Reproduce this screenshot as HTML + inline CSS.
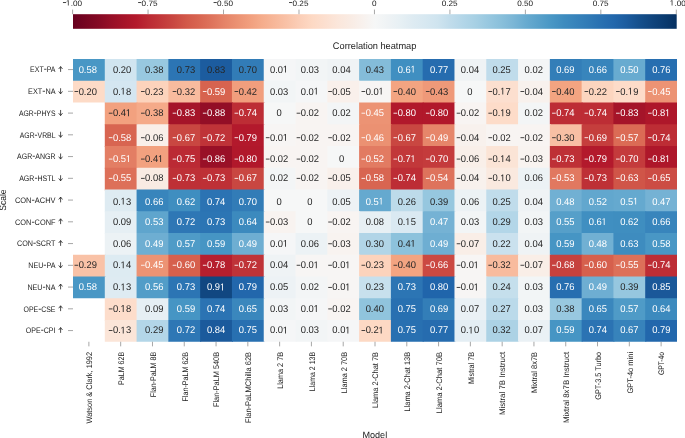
<!DOCTYPE html>
<html><head><meta charset="utf-8"><style>
html,body{margin:0;padding:0;background:#fff;}
body{width:685px;height:438px;position:relative;overflow:hidden;font-family:"Liberation Sans", sans-serif;}
svg text{font-family:"Liberation Sans", sans-serif;text-rendering:geometricPrecision;}
</style></head><body>
<svg width="685" height="438" viewBox="0 0 685 438" style="position:absolute;left:0;top:0;will-change:transform">
<defs><linearGradient id="cb" x1="0" y1="0" x2="1" y2="0"><stop offset="0.0000" stop-color="#67001f"/><stop offset="0.0208" stop-color="#760521"/><stop offset="0.0417" stop-color="#840924"/><stop offset="0.0625" stop-color="#960f27"/><stop offset="0.0833" stop-color="#a51429"/><stop offset="0.1042" stop-color="#b3192c"/><stop offset="0.1250" stop-color="#bb2a34"/><stop offset="0.1458" stop-color="#c2383a"/><stop offset="0.1667" stop-color="#c94741"/><stop offset="0.1875" stop-color="#d25849"/><stop offset="0.2083" stop-color="#d86551"/><stop offset="0.2292" stop-color="#de735c"/><stop offset="0.2500" stop-color="#e58368"/><stop offset="0.2708" stop-color="#eb9172"/><stop offset="0.2917" stop-color="#f19e7d"/><stop offset="0.3125" stop-color="#f5ac8b"/><stop offset="0.3333" stop-color="#f7b799"/><stop offset="0.3542" stop-color="#f9c2a7"/><stop offset="0.3750" stop-color="#fbceb7"/><stop offset="0.3958" stop-color="#fdd9c4"/><stop offset="0.4167" stop-color="#fcdfcf"/><stop offset="0.4375" stop-color="#fbe6da"/><stop offset="0.4583" stop-color="#f9ebe3"/><stop offset="0.4792" stop-color="#f8f1ed"/><stop offset="0.5000" stop-color="#f6f7f7"/><stop offset="0.5208" stop-color="#eff3f5"/><stop offset="0.5417" stop-color="#e7f0f4"/><stop offset="0.5625" stop-color="#deebf2"/><stop offset="0.5833" stop-color="#d7e8f1"/><stop offset="0.6042" stop-color="#cfe4ef"/><stop offset="0.6250" stop-color="#c0dceb"/><stop offset="0.6458" stop-color="#b3d6e8"/><stop offset="0.6667" stop-color="#a7d0e4"/><stop offset="0.6875" stop-color="#98c8e0"/><stop offset="0.7083" stop-color="#8ac0db"/><stop offset="0.7292" stop-color="#7bb6d6"/><stop offset="0.7500" stop-color="#68abd0"/><stop offset="0.7708" stop-color="#59a1ca"/><stop offset="0.7917" stop-color="#4997c5"/><stop offset="0.8125" stop-color="#3e8cbf"/><stop offset="0.8333" stop-color="#3783bb"/><stop offset="0.8542" stop-color="#307ab6"/><stop offset="0.8750" stop-color="#2870b1"/><stop offset="0.8958" stop-color="#2267ac"/><stop offset="0.9167" stop-color="#1c5c9f"/><stop offset="0.9375" stop-color="#15508d"/><stop offset="0.9583" stop-color="#10457e"/><stop offset="0.9792" stop-color="#0a3b70"/><stop offset="1.0000" stop-color="#053061"/></linearGradient></defs>
<rect x="73.0" y="14.2" width="603.70" height="14.60" fill="url(#cb)"/>
<line x1="72.60" y1="9.6" x2="72.60" y2="14.2" stroke="#8a8a8a" stroke-width="0.75"/>
<text transform="translate(66.13,5.60) scale(1.05,1)" font-size="7.8" fill="#222"> .00</text><path transform="translate(66.13,5.60) scale(8.190,7.800)" d="M0.215,0L0.305,0L0.305,-0.698L0.235,-0.698L0.075,-0.575L0.075,-0.49L0.215,-0.605Z" fill="#222"/><rect x="62.95" y="2.17" width="3.2" height="0.85" fill="#222"/>
<line x1="148.06" y1="9.6" x2="148.06" y2="14.2" stroke="#8a8a8a" stroke-width="0.75"/>
<text transform="translate(141.59,5.60) scale(1.05,1)" font-size="7.8" fill="#222">0.75</text><rect x="138.11" y="2.17" width="3.2" height="0.85" fill="#222"/>
<line x1="223.53" y1="9.6" x2="223.53" y2="14.2" stroke="#8a8a8a" stroke-width="0.75"/>
<text transform="translate(217.05,5.60) scale(1.05,1)" font-size="7.8" fill="#222">0.50</text><rect x="213.57" y="2.17" width="3.2" height="0.85" fill="#222"/>
<line x1="298.99" y1="9.6" x2="298.99" y2="14.2" stroke="#8a8a8a" stroke-width="0.75"/>
<text transform="translate(292.52,5.60) scale(1.05,1)" font-size="7.8" fill="#222">0.25</text><rect x="289.04" y="2.17" width="3.2" height="0.85" fill="#222"/>
<line x1="374.45" y1="9.6" x2="374.45" y2="14.2" stroke="#8a8a8a" stroke-width="0.75"/>
<text transform="translate(371.97,5.60) scale(1.05,1)" font-size="7.8" fill="#222">0</text>
<line x1="449.91" y1="9.6" x2="449.91" y2="14.2" stroke="#8a8a8a" stroke-width="0.75"/>
<text transform="translate(441.74,5.60) scale(1.05,1)" font-size="7.8" fill="#222">0.25</text>
<line x1="525.38" y1="9.6" x2="525.38" y2="14.2" stroke="#8a8a8a" stroke-width="0.75"/>
<text transform="translate(517.20,5.60) scale(1.05,1)" font-size="7.8" fill="#222">0.50</text>
<line x1="600.84" y1="9.6" x2="600.84" y2="14.2" stroke="#8a8a8a" stroke-width="0.75"/>
<text transform="translate(592.67,5.60) scale(1.05,1)" font-size="7.8" fill="#222">0.75</text>
<line x1="676.30" y1="9.6" x2="676.30" y2="14.2" stroke="#8a8a8a" stroke-width="0.75"/>
<text transform="translate(669.93,5.60) scale(1.05,1)" font-size="7.8" fill="#222"> .00</text><path transform="translate(669.93,5.60) scale(8.190,7.800)" d="M0.215,0L0.305,0L0.305,-0.698L0.235,-0.698L0.075,-0.575L0.075,-0.49L0.215,-0.605Z" fill="#222"/>
<text transform="translate(374.6,49.3) scale(0.97,1)" text-anchor="middle" font-size="9.5" fill="#222">Correlation heatmap</text>
<rect x="73.000" y="59.000" width="32.789" height="22.750" fill="#4997c5"/>
<rect x="104.789" y="59.000" width="32.789" height="22.750" fill="#d1e5f0"/>
<rect x="136.579" y="59.000" width="32.789" height="22.750" fill="#98c8e0"/>
<rect x="168.368" y="59.000" width="32.789" height="22.750" fill="#2c75b4"/>
<rect x="200.158" y="59.000" width="32.789" height="22.750" fill="#1c5c9f"/>
<rect x="231.947" y="59.000" width="32.789" height="22.750" fill="#327cb7"/>
<rect x="263.737" y="59.000" width="32.789" height="22.750" fill="#f5f6f7"/>
<rect x="295.526" y="59.000" width="32.789" height="22.750" fill="#f2f5f6"/>
<rect x="327.316" y="59.000" width="32.789" height="22.750" fill="#eff3f5"/>
<rect x="359.105" y="59.000" width="32.789" height="22.750" fill="#84bcd9"/>
<rect x="390.895" y="59.000" width="32.789" height="22.750" fill="#408fc1"/>
<rect x="422.684" y="59.000" width="32.789" height="22.750" fill="#266caf"/>
<rect x="454.474" y="59.000" width="32.789" height="22.750" fill="#eff3f5"/>
<rect x="486.263" y="59.000" width="32.789" height="22.750" fill="#c0dceb"/>
<rect x="518.053" y="59.000" width="32.789" height="22.750" fill="#f3f5f6"/>
<rect x="549.842" y="59.000" width="32.789" height="22.750" fill="#337eb8"/>
<rect x="581.632" y="59.000" width="32.789" height="22.750" fill="#3885bc"/>
<rect x="613.421" y="59.000" width="32.789" height="22.750" fill="#68abd0"/>
<rect x="645.211" y="59.000" width="31.789" height="22.750" fill="#276eb0"/>
<rect x="73.000" y="80.750" width="32.789" height="21.750" fill="#fddbc7"/>
<rect x="104.789" y="80.750" width="32.789" height="22.750" fill="#d4e6f1"/>
<rect x="136.579" y="80.750" width="32.789" height="22.750" fill="#fcd3bc"/>
<rect x="168.368" y="80.750" width="32.789" height="22.750" fill="#f8bb9e"/>
<rect x="200.158" y="80.750" width="32.789" height="22.750" fill="#d7634f"/>
<rect x="231.947" y="80.750" width="32.789" height="22.750" fill="#f19e7d"/>
<rect x="263.737" y="80.750" width="32.789" height="22.750" fill="#f2f5f6"/>
<rect x="295.526" y="80.750" width="32.789" height="22.750" fill="#f5f6f7"/>
<rect x="327.316" y="80.750" width="32.789" height="22.750" fill="#f9f0eb"/>
<rect x="359.105" y="80.750" width="32.789" height="22.750" fill="#f7f5f4"/>
<rect x="390.895" y="80.750" width="32.789" height="22.750" fill="#f3a481"/>
<rect x="422.684" y="80.750" width="32.789" height="22.750" fill="#ef9979"/>
<rect x="454.474" y="80.750" width="32.789" height="22.750" fill="#f6f7f7"/>
<rect x="486.263" y="80.750" width="32.789" height="22.750" fill="#fcdfcf"/>
<rect x="518.053" y="80.750" width="32.789" height="22.750" fill="#f8f1ed"/>
<rect x="549.842" y="80.750" width="32.789" height="22.750" fill="#f3a481"/>
<rect x="581.632" y="80.750" width="32.789" height="22.750" fill="#fcd5bf"/>
<rect x="613.421" y="80.750" width="32.789" height="22.750" fill="#fddcc9"/>
<rect x="645.211" y="80.750" width="31.789" height="22.750" fill="#ec9374"/>
<rect x="104.789" y="102.500" width="32.789" height="22.750" fill="#f2a17f"/>
<rect x="136.579" y="102.500" width="32.789" height="22.750" fill="#f5aa89"/>
<rect x="168.368" y="102.500" width="32.789" height="22.750" fill="#a51429"/>
<rect x="200.158" y="102.500" width="32.789" height="22.750" fill="#930e26"/>
<rect x="231.947" y="102.500" width="32.789" height="22.750" fill="#bd2d35"/>
<rect x="263.737" y="102.500" width="32.789" height="22.750" fill="#f6f7f7"/>
<rect x="295.526" y="102.500" width="32.789" height="22.750" fill="#f8f4f2"/>
<rect x="327.316" y="102.500" width="32.789" height="22.750" fill="#f3f5f6"/>
<rect x="359.105" y="102.500" width="32.789" height="22.750" fill="#ec9374"/>
<rect x="390.895" y="102.500" width="32.789" height="22.750" fill="#b1182b"/>
<rect x="422.684" y="102.500" width="32.789" height="22.750" fill="#b1182b"/>
<rect x="454.474" y="102.500" width="32.789" height="22.750" fill="#f8f4f2"/>
<rect x="486.263" y="102.500" width="32.789" height="22.750" fill="#fddcc9"/>
<rect x="518.053" y="102.500" width="32.789" height="22.750" fill="#f3f5f6"/>
<rect x="549.842" y="102.500" width="32.789" height="22.750" fill="#bd2d35"/>
<rect x="581.632" y="102.500" width="32.789" height="22.750" fill="#bd2d35"/>
<rect x="613.421" y="102.500" width="32.789" height="22.750" fill="#a51429"/>
<rect x="645.211" y="102.500" width="31.789" height="22.750" fill="#ae172a"/>
<rect x="104.789" y="124.250" width="32.789" height="22.750" fill="#d86551"/>
<rect x="136.579" y="124.250" width="32.789" height="22.750" fill="#f9efe9"/>
<rect x="168.368" y="124.250" width="32.789" height="22.750" fill="#c94741"/>
<rect x="200.158" y="124.250" width="32.789" height="22.750" fill="#bf3338"/>
<rect x="231.947" y="124.250" width="32.789" height="22.750" fill="#b3192c"/>
<rect x="263.737" y="124.250" width="32.789" height="22.750" fill="#f7f5f4"/>
<rect x="295.526" y="124.250" width="32.789" height="22.750" fill="#f8f4f2"/>
<rect x="327.316" y="124.250" width="32.789" height="22.750" fill="#f8f4f2"/>
<rect x="359.105" y="124.250" width="32.789" height="22.750" fill="#eb9172"/>
<rect x="390.895" y="124.250" width="32.789" height="22.750" fill="#c94741"/>
<rect x="422.684" y="124.250" width="32.789" height="22.750" fill="#e6866a"/>
<rect x="454.474" y="124.250" width="32.789" height="22.750" fill="#f8f1ed"/>
<rect x="486.263" y="124.250" width="32.789" height="22.750" fill="#f8f4f2"/>
<rect x="518.053" y="124.250" width="32.789" height="22.750" fill="#f8f4f2"/>
<rect x="549.842" y="124.250" width="32.789" height="22.750" fill="#f8bfa4"/>
<rect x="581.632" y="124.250" width="32.789" height="22.750" fill="#c53e3d"/>
<rect x="613.421" y="124.250" width="32.789" height="22.750" fill="#db6b55"/>
<rect x="645.211" y="124.250" width="31.789" height="22.750" fill="#bd2d35"/>
<rect x="104.789" y="146.000" width="32.789" height="22.750" fill="#e37e64"/>
<rect x="136.579" y="146.000" width="32.789" height="22.750" fill="#f2a17f"/>
<rect x="168.368" y="146.000" width="32.789" height="22.750" fill="#bb2a34"/>
<rect x="200.158" y="146.000" width="32.789" height="22.750" fill="#991027"/>
<rect x="231.947" y="146.000" width="32.789" height="22.750" fill="#b1182b"/>
<rect x="263.737" y="146.000" width="32.789" height="22.750" fill="#f8f4f2"/>
<rect x="295.526" y="146.000" width="32.789" height="22.750" fill="#f8f4f2"/>
<rect x="327.316" y="146.000" width="32.789" height="22.750" fill="#f6f7f7"/>
<rect x="359.105" y="146.000" width="32.789" height="22.750" fill="#e27b62"/>
<rect x="390.895" y="146.000" width="32.789" height="22.750" fill="#c2383a"/>
<rect x="422.684" y="146.000" width="32.789" height="22.750" fill="#c43b3c"/>
<rect x="454.474" y="146.000" width="32.789" height="22.750" fill="#f9efe9"/>
<rect x="486.263" y="146.000" width="32.789" height="22.750" fill="#fbe4d6"/>
<rect x="518.053" y="146.000" width="32.789" height="22.750" fill="#f8f3f0"/>
<rect x="549.842" y="146.000" width="32.789" height="22.750" fill="#be3036"/>
<rect x="581.632" y="146.000" width="32.789" height="22.750" fill="#b3192c"/>
<rect x="613.421" y="146.000" width="32.789" height="22.750" fill="#c43b3c"/>
<rect x="645.211" y="146.000" width="31.789" height="22.750" fill="#ae172a"/>
<rect x="104.789" y="167.750" width="32.789" height="22.750" fill="#dd7059"/>
<rect x="136.579" y="167.750" width="32.789" height="22.750" fill="#f9ebe3"/>
<rect x="168.368" y="167.750" width="32.789" height="22.750" fill="#be3036"/>
<rect x="200.158" y="167.750" width="32.789" height="22.750" fill="#be3036"/>
<rect x="231.947" y="167.750" width="32.789" height="22.750" fill="#c94741"/>
<rect x="263.737" y="167.750" width="32.789" height="22.750" fill="#f3f5f6"/>
<rect x="295.526" y="167.750" width="32.789" height="22.750" fill="#f8f4f2"/>
<rect x="327.316" y="167.750" width="32.789" height="22.750" fill="#f9f0eb"/>
<rect x="359.105" y="167.750" width="32.789" height="22.750" fill="#d86551"/>
<rect x="390.895" y="167.750" width="32.789" height="22.750" fill="#bd2d35"/>
<rect x="422.684" y="167.750" width="32.789" height="22.750" fill="#de735c"/>
<rect x="454.474" y="167.750" width="32.789" height="22.750" fill="#f8f1ed"/>
<rect x="486.263" y="167.750" width="32.789" height="22.750" fill="#fae9df"/>
<rect x="518.053" y="167.750" width="32.789" height="22.750" fill="#ecf2f5"/>
<rect x="549.842" y="167.750" width="32.789" height="22.750" fill="#e17860"/>
<rect x="581.632" y="167.750" width="32.789" height="22.750" fill="#be3036"/>
<rect x="613.421" y="167.750" width="32.789" height="22.750" fill="#d05548"/>
<rect x="645.211" y="167.750" width="31.789" height="22.750" fill="#cc4c44"/>
<rect x="104.789" y="189.500" width="32.789" height="22.750" fill="#deebf2"/>
<rect x="136.579" y="189.500" width="32.789" height="22.750" fill="#3885bc"/>
<rect x="168.368" y="189.500" width="32.789" height="22.750" fill="#3f8ec0"/>
<rect x="200.158" y="189.500" width="32.789" height="22.750" fill="#2b73b3"/>
<rect x="231.947" y="189.500" width="32.789" height="22.750" fill="#327cb7"/>
<rect x="263.737" y="189.500" width="32.789" height="22.750" fill="#f6f7f7"/>
<rect x="295.526" y="189.500" width="32.789" height="22.750" fill="#f6f7f7"/>
<rect x="327.316" y="189.500" width="32.789" height="22.750" fill="#edf2f5"/>
<rect x="359.105" y="189.500" width="32.789" height="22.750" fill="#65a9cf"/>
<rect x="390.895" y="189.500" width="32.789" height="22.750" fill="#bddbea"/>
<rect x="422.684" y="189.500" width="32.789" height="22.750" fill="#96c7df"/>
<rect x="454.474" y="189.500" width="32.789" height="22.750" fill="#ecf2f5"/>
<rect x="486.263" y="189.500" width="32.789" height="22.750" fill="#c0dceb"/>
<rect x="518.053" y="189.500" width="32.789" height="22.750" fill="#eff3f5"/>
<rect x="549.842" y="189.500" width="32.789" height="22.750" fill="#71b0d3"/>
<rect x="581.632" y="189.500" width="32.789" height="22.750" fill="#62a7ce"/>
<rect x="613.421" y="189.500" width="32.789" height="22.750" fill="#65a9cf"/>
<rect x="645.211" y="189.500" width="31.789" height="22.750" fill="#75b2d4"/>
<rect x="104.789" y="211.250" width="32.789" height="22.750" fill="#e6eff4"/>
<rect x="136.579" y="211.250" width="32.789" height="22.750" fill="#5fa5cd"/>
<rect x="168.368" y="211.250" width="32.789" height="22.750" fill="#2e77b5"/>
<rect x="200.158" y="211.250" width="32.789" height="22.750" fill="#2c75b4"/>
<rect x="231.947" y="211.250" width="32.789" height="22.750" fill="#3c8abe"/>
<rect x="263.737" y="211.250" width="32.789" height="22.750" fill="#f8f3f0"/>
<rect x="295.526" y="211.250" width="32.789" height="22.750" fill="#f6f7f7"/>
<rect x="327.316" y="211.250" width="32.789" height="22.750" fill="#f8f4f2"/>
<rect x="359.105" y="211.250" width="32.789" height="22.750" fill="#e7f0f4"/>
<rect x="390.895" y="211.250" width="32.789" height="22.750" fill="#dae9f2"/>
<rect x="422.684" y="211.250" width="32.789" height="22.750" fill="#75b2d4"/>
<rect x="454.474" y="211.250" width="32.789" height="22.750" fill="#f2f5f6"/>
<rect x="486.263" y="211.250" width="32.789" height="22.750" fill="#b3d6e8"/>
<rect x="518.053" y="211.250" width="32.789" height="22.750" fill="#f2f5f6"/>
<rect x="549.842" y="211.250" width="32.789" height="22.750" fill="#569fc9"/>
<rect x="581.632" y="211.250" width="32.789" height="22.750" fill="#408fc1"/>
<rect x="613.421" y="211.250" width="32.789" height="22.750" fill="#3f8ec0"/>
<rect x="645.211" y="211.250" width="31.789" height="22.750" fill="#3885bc"/>
<rect x="104.789" y="233.000" width="32.789" height="22.750" fill="#ecf2f5"/>
<rect x="136.579" y="233.000" width="32.789" height="22.750" fill="#6eaed2"/>
<rect x="168.368" y="233.000" width="32.789" height="22.750" fill="#4f9bc7"/>
<rect x="200.158" y="233.000" width="32.789" height="22.750" fill="#4695c4"/>
<rect x="231.947" y="233.000" width="32.789" height="22.750" fill="#6eaed2"/>
<rect x="263.737" y="233.000" width="32.789" height="22.750" fill="#f5f6f7"/>
<rect x="295.526" y="233.000" width="32.789" height="22.750" fill="#ecf2f5"/>
<rect x="327.316" y="233.000" width="32.789" height="22.750" fill="#f8f3f0"/>
<rect x="359.105" y="233.000" width="32.789" height="22.750" fill="#b1d5e7"/>
<rect x="390.895" y="233.000" width="32.789" height="22.750" fill="#8dc2dc"/>
<rect x="422.684" y="233.000" width="32.789" height="22.750" fill="#6eaed2"/>
<rect x="454.474" y="233.000" width="32.789" height="22.750" fill="#f9eee7"/>
<rect x="486.263" y="233.000" width="32.789" height="22.750" fill="#cae1ee"/>
<rect x="518.053" y="233.000" width="32.789" height="22.750" fill="#eff3f5"/>
<rect x="549.842" y="233.000" width="32.789" height="22.750" fill="#4695c4"/>
<rect x="581.632" y="233.000" width="32.789" height="22.750" fill="#71b0d3"/>
<rect x="613.421" y="233.000" width="32.789" height="22.750" fill="#3e8cbf"/>
<rect x="645.211" y="233.000" width="31.789" height="22.750" fill="#4997c5"/>
<rect x="73.000" y="254.750" width="32.789" height="22.750" fill="#f9c2a7"/>
<rect x="104.789" y="254.750" width="32.789" height="22.750" fill="#ddebf2"/>
<rect x="136.579" y="254.750" width="32.789" height="22.750" fill="#ec9374"/>
<rect x="168.368" y="254.750" width="32.789" height="22.750" fill="#d6604d"/>
<rect x="200.158" y="254.750" width="32.789" height="22.750" fill="#b61f2e"/>
<rect x="231.947" y="254.750" width="32.789" height="22.750" fill="#bf3338"/>
<rect x="263.737" y="254.750" width="32.789" height="22.750" fill="#eff3f5"/>
<rect x="295.526" y="254.750" width="32.789" height="22.750" fill="#f7f5f4"/>
<rect x="327.316" y="254.750" width="32.789" height="22.750" fill="#f7f5f4"/>
<rect x="359.105" y="254.750" width="32.789" height="22.750" fill="#fcd3bc"/>
<rect x="390.895" y="254.750" width="32.789" height="22.750" fill="#f3a481"/>
<rect x="422.684" y="254.750" width="32.789" height="22.750" fill="#cb4942"/>
<rect x="454.474" y="254.750" width="32.789" height="22.750" fill="#f7f5f4"/>
<rect x="486.263" y="254.750" width="32.789" height="22.750" fill="#f8bb9e"/>
<rect x="518.053" y="254.750" width="32.789" height="22.750" fill="#f9eee7"/>
<rect x="549.842" y="254.750" width="32.789" height="22.750" fill="#c6413e"/>
<rect x="581.632" y="254.750" width="32.789" height="22.750" fill="#d6604d"/>
<rect x="613.421" y="254.750" width="32.789" height="22.750" fill="#dd7059"/>
<rect x="645.211" y="254.750" width="31.789" height="22.750" fill="#bd2d35"/>
<rect x="73.000" y="276.500" width="32.789" height="21.750" fill="#4997c5"/>
<rect x="104.789" y="276.500" width="32.789" height="22.750" fill="#deebf2"/>
<rect x="136.579" y="276.500" width="32.789" height="22.750" fill="#529dc8"/>
<rect x="168.368" y="276.500" width="32.789" height="22.750" fill="#2c75b4"/>
<rect x="200.158" y="276.500" width="32.789" height="22.750" fill="#114781"/>
<rect x="231.947" y="276.500" width="32.789" height="22.750" fill="#2267ac"/>
<rect x="263.737" y="276.500" width="32.789" height="22.750" fill="#edf2f5"/>
<rect x="295.526" y="276.500" width="32.789" height="22.750" fill="#f3f5f6"/>
<rect x="327.316" y="276.500" width="32.789" height="22.750" fill="#f7f5f4"/>
<rect x="359.105" y="276.500" width="32.789" height="22.750" fill="#c7e0ed"/>
<rect x="390.895" y="276.500" width="32.789" height="22.750" fill="#2c75b4"/>
<rect x="422.684" y="276.500" width="32.789" height="22.750" fill="#2065ab"/>
<rect x="454.474" y="276.500" width="32.789" height="22.750" fill="#f7f5f4"/>
<rect x="486.263" y="276.500" width="32.789" height="22.750" fill="#c5dfec"/>
<rect x="518.053" y="276.500" width="32.789" height="22.750" fill="#f2f5f6"/>
<rect x="549.842" y="276.500" width="32.789" height="22.750" fill="#276eb0"/>
<rect x="581.632" y="276.500" width="32.789" height="22.750" fill="#6eaed2"/>
<rect x="613.421" y="276.500" width="32.789" height="22.750" fill="#96c7df"/>
<rect x="645.211" y="276.500" width="31.789" height="22.750" fill="#1a5899"/>
<rect x="104.789" y="298.250" width="32.789" height="22.750" fill="#fdddcb"/>
<rect x="136.579" y="298.250" width="32.789" height="22.750" fill="#e6eff4"/>
<rect x="168.368" y="298.250" width="32.789" height="22.750" fill="#4695c4"/>
<rect x="200.158" y="298.250" width="32.789" height="22.750" fill="#2b73b3"/>
<rect x="231.947" y="298.250" width="32.789" height="22.750" fill="#3a87bd"/>
<rect x="263.737" y="298.250" width="32.789" height="22.750" fill="#f2f5f6"/>
<rect x="295.526" y="298.250" width="32.789" height="22.750" fill="#f5f6f7"/>
<rect x="327.316" y="298.250" width="32.789" height="22.750" fill="#f8f4f2"/>
<rect x="359.105" y="298.250" width="32.789" height="22.750" fill="#90c4dd"/>
<rect x="390.895" y="298.250" width="32.789" height="22.750" fill="#2870b1"/>
<rect x="422.684" y="298.250" width="32.789" height="22.750" fill="#337eb8"/>
<rect x="454.474" y="298.250" width="32.789" height="22.750" fill="#eaf1f5"/>
<rect x="486.263" y="298.250" width="32.789" height="22.750" fill="#bbdaea"/>
<rect x="518.053" y="298.250" width="32.789" height="22.750" fill="#f2f5f6"/>
<rect x="549.842" y="298.250" width="32.789" height="22.750" fill="#98c8e0"/>
<rect x="581.632" y="298.250" width="32.789" height="22.750" fill="#3a87bd"/>
<rect x="613.421" y="298.250" width="32.789" height="22.750" fill="#4f9bc7"/>
<rect x="645.211" y="298.250" width="31.789" height="22.750" fill="#3c8abe"/>
<rect x="104.789" y="320.000" width="32.789" height="21.750" fill="#fbe5d8"/>
<rect x="136.579" y="320.000" width="32.789" height="21.750" fill="#b3d6e8"/>
<rect x="168.368" y="320.000" width="32.789" height="21.750" fill="#2e77b5"/>
<rect x="200.158" y="320.000" width="32.789" height="21.750" fill="#1b5a9c"/>
<rect x="231.947" y="320.000" width="32.789" height="21.750" fill="#2870b1"/>
<rect x="263.737" y="320.000" width="32.789" height="21.750" fill="#f5f6f7"/>
<rect x="295.526" y="320.000" width="32.789" height="21.750" fill="#f2f5f6"/>
<rect x="327.316" y="320.000" width="32.789" height="21.750" fill="#f5f6f7"/>
<rect x="359.105" y="320.000" width="32.789" height="21.750" fill="#fdd9c4"/>
<rect x="390.895" y="320.000" width="32.789" height="21.750" fill="#2870b1"/>
<rect x="422.684" y="320.000" width="32.789" height="21.750" fill="#266caf"/>
<rect x="454.474" y="320.000" width="32.789" height="21.750" fill="#e4eef4"/>
<rect x="486.263" y="320.000" width="32.789" height="21.750" fill="#acd2e5"/>
<rect x="518.053" y="320.000" width="32.789" height="21.750" fill="#eaf1f5"/>
<rect x="549.842" y="320.000" width="32.789" height="21.750" fill="#4695c4"/>
<rect x="581.632" y="320.000" width="32.789" height="21.750" fill="#2b73b3"/>
<rect x="613.421" y="320.000" width="32.789" height="21.750" fill="#3783bb"/>
<rect x="645.211" y="320.000" width="31.789" height="21.750" fill="#2267ac"/>
<text transform="translate(78.64,72.58) scale(0.96,1)" font-size="9.8" fill="#fff">0.58</text>
<text transform="translate(112.93,72.58) scale(0.96,1)" font-size="9.8" fill="#262626">0.20</text>
<text transform="translate(145.12,72.58) scale(0.96,1)" font-size="9.8" fill="#262626">0.38</text>
<text transform="translate(176.81,72.58) scale(0.96,1)" font-size="9.8" fill="#262626">0.73</text>
<text transform="translate(207.00,72.58) scale(0.96,1)" font-size="9.8" fill="#262626">0.83</text>
<text transform="translate(238.69,72.58) scale(0.96,1)" font-size="9.8" fill="#262626">0.70</text>
<text transform="translate(269.98,72.58) scale(0.96,1)" font-size="9.8" fill="#262626">0.0 </text><path transform="translate(283.05,72.58) scale(9.408,9.800)" d="M0.215,0L0.305,0L0.305,-0.698L0.235,-0.698L0.075,-0.575L0.075,-0.49L0.215,-0.605Z" fill="#262626"/>
<text transform="translate(300.77,72.58) scale(0.96,1)" font-size="9.8" fill="#262626">0.03</text>
<text transform="translate(332.36,72.58) scale(0.96,1)" font-size="9.8" fill="#262626">0.04</text>
<text transform="translate(365.64,72.58) scale(0.96,1)" font-size="9.8" fill="#262626">0.43</text>
<text transform="translate(397.63,72.58) scale(0.96,1)" font-size="9.8" fill="#fff">0.6 </text><path transform="translate(410.71,72.58) scale(9.408,9.800)" d="M0.215,0L0.305,0L0.305,-0.698L0.235,-0.698L0.075,-0.575L0.075,-0.49L0.215,-0.605Z" fill="#fff"/>
<text transform="translate(430.02,72.58) scale(0.96,1)" font-size="9.8" fill="#fff">0.77</text>
<text transform="translate(460.81,72.58) scale(0.96,1)" font-size="9.8" fill="#262626">0.04</text>
<text transform="translate(492.50,72.58) scale(0.96,1)" font-size="9.8" fill="#262626">0.25</text>
<text transform="translate(524.59,72.58) scale(0.96,1)" font-size="9.8" fill="#262626">0.02</text>
<text transform="translate(556.18,72.58) scale(0.96,1)" font-size="9.8" fill="#fff">0.69</text>
<text transform="translate(588.67,72.58) scale(0.96,1)" font-size="9.8" fill="#fff">0.66</text>
<text transform="translate(620.16,72.58) scale(0.96,1)" font-size="9.8" fill="#fff">0.50</text>
<text transform="translate(652.15,72.58) scale(0.96,1)" font-size="9.8" fill="#fff">0.76</text>
<text transform="translate(78.64,94.53) scale(0.96,1)" font-size="9.8" fill="#262626">0.20</text><rect x="74.51" y="91.10" width="3.7" height="0.85" fill="#262626"/>
<text transform="translate(112.93,94.53) scale(0.96,1)" font-size="9.8" fill="#262626">0. 8</text><path transform="translate(120.77,94.53) scale(9.408,9.800)" d="M0.215,0L0.305,0L0.305,-0.698L0.235,-0.698L0.075,-0.575L0.075,-0.49L0.215,-0.605Z" fill="#262626"/>
<text transform="translate(145.12,94.53) scale(0.96,1)" font-size="9.8" fill="#262626">0.23</text><rect x="140.99" y="91.10" width="3.7" height="0.85" fill="#262626"/>
<text transform="translate(176.81,94.53) scale(0.96,1)" font-size="9.8" fill="#262626">0.32</text><rect x="172.68" y="91.10" width="3.7" height="0.85" fill="#262626"/>
<text transform="translate(207.00,94.53) scale(0.96,1)" font-size="9.8" fill="#fff">0.59</text><rect x="202.86" y="91.10" width="3.7" height="0.85" fill="#fff"/>
<text transform="translate(238.69,94.53) scale(0.96,1)" font-size="9.8" fill="#262626">0.42</text><rect x="234.55" y="91.10" width="3.7" height="0.85" fill="#262626"/>
<text transform="translate(269.98,94.53) scale(0.96,1)" font-size="9.8" fill="#262626">0.03</text>
<text transform="translate(300.77,94.53) scale(0.96,1)" font-size="9.8" fill="#262626">0.0 </text><path transform="translate(313.84,94.53) scale(9.408,9.800)" d="M0.215,0L0.305,0L0.305,-0.698L0.235,-0.698L0.075,-0.575L0.075,-0.49L0.215,-0.605Z" fill="#262626"/>
<text transform="translate(332.36,94.53) scale(0.96,1)" font-size="9.8" fill="#262626">0.05</text><rect x="328.22" y="91.10" width="3.7" height="0.85" fill="#262626"/>
<text transform="translate(365.64,94.53) scale(0.96,1)" font-size="9.8" fill="#262626">0.0 </text><path transform="translate(378.72,94.53) scale(9.408,9.800)" d="M0.215,0L0.305,0L0.305,-0.698L0.235,-0.698L0.075,-0.575L0.075,-0.49L0.215,-0.605Z" fill="#262626"/><rect x="361.51" y="91.10" width="3.7" height="0.85" fill="#262626"/>
<text transform="translate(397.63,94.53) scale(0.96,1)" font-size="9.8" fill="#262626">0.40</text><rect x="393.50" y="91.10" width="3.7" height="0.85" fill="#262626"/>
<text transform="translate(430.02,94.53) scale(0.96,1)" font-size="9.8" fill="#262626">0.43</text><rect x="425.89" y="91.10" width="3.7" height="0.85" fill="#262626"/>
<text transform="translate(467.35,94.53) scale(0.96,1)" font-size="9.8" fill="#262626">0</text>
<text transform="translate(492.50,94.53) scale(0.96,1)" font-size="9.8" fill="#262626">0. 7</text><path transform="translate(500.35,94.53) scale(9.408,9.800)" d="M0.215,0L0.305,0L0.305,-0.698L0.235,-0.698L0.075,-0.575L0.075,-0.49L0.215,-0.605Z" fill="#262626"/><rect x="488.37" y="91.10" width="3.7" height="0.85" fill="#262626"/>
<text transform="translate(524.59,94.53) scale(0.96,1)" font-size="9.8" fill="#262626">0.04</text><rect x="520.46" y="91.10" width="3.7" height="0.85" fill="#262626"/>
<text transform="translate(556.18,94.53) scale(0.96,1)" font-size="9.8" fill="#262626">0.40</text><rect x="552.05" y="91.10" width="3.7" height="0.85" fill="#262626"/>
<text transform="translate(588.67,94.53) scale(0.96,1)" font-size="9.8" fill="#262626">0.22</text><rect x="584.54" y="91.10" width="3.7" height="0.85" fill="#262626"/>
<text transform="translate(620.16,94.53) scale(0.96,1)" font-size="9.8" fill="#262626">0. 9</text><path transform="translate(628.01,94.53) scale(9.408,9.800)" d="M0.215,0L0.305,0L0.305,-0.698L0.235,-0.698L0.075,-0.575L0.075,-0.49L0.215,-0.605Z" fill="#262626"/><rect x="616.03" y="91.10" width="3.7" height="0.85" fill="#262626"/>
<text transform="translate(652.15,94.53) scale(0.96,1)" font-size="9.8" fill="#fff">0.45</text><rect x="648.02" y="91.10" width="3.7" height="0.85" fill="#fff"/>
<text transform="translate(112.93,116.17) scale(0.96,1)" font-size="9.8" fill="#262626">0.4 </text><path transform="translate(126.01,116.17) scale(9.408,9.800)" d="M0.215,0L0.305,0L0.305,-0.698L0.235,-0.698L0.075,-0.575L0.075,-0.49L0.215,-0.605Z" fill="#262626"/><rect x="108.80" y="112.75" width="3.7" height="0.85" fill="#262626"/>
<text transform="translate(145.12,116.17) scale(0.96,1)" font-size="9.8" fill="#262626">0.38</text><rect x="140.99" y="112.75" width="3.7" height="0.85" fill="#262626"/>
<text transform="translate(176.81,116.17) scale(0.96,1)" font-size="9.8" fill="#fff">0.83</text><rect x="172.68" y="112.75" width="3.7" height="0.85" fill="#fff"/>
<text transform="translate(207.00,116.17) scale(0.96,1)" font-size="9.8" fill="#fff">0.88</text><rect x="202.86" y="112.75" width="3.7" height="0.85" fill="#fff"/>
<text transform="translate(238.69,116.17) scale(0.96,1)" font-size="9.8" fill="#fff">0.74</text><rect x="234.55" y="112.75" width="3.7" height="0.85" fill="#fff"/>
<text transform="translate(276.52,116.17) scale(0.96,1)" font-size="9.8" fill="#262626">0</text>
<text transform="translate(300.77,116.17) scale(0.96,1)" font-size="9.8" fill="#262626">0.02</text><rect x="296.63" y="112.75" width="3.7" height="0.85" fill="#262626"/>
<text transform="translate(332.36,116.17) scale(0.96,1)" font-size="9.8" fill="#262626">0.02</text>
<text transform="translate(365.64,116.17) scale(0.96,1)" font-size="9.8" fill="#fff">0.45</text><rect x="361.51" y="112.75" width="3.7" height="0.85" fill="#fff"/>
<text transform="translate(397.63,116.17) scale(0.96,1)" font-size="9.8" fill="#fff">0.80</text><rect x="393.50" y="112.75" width="3.7" height="0.85" fill="#fff"/>
<text transform="translate(430.02,116.17) scale(0.96,1)" font-size="9.8" fill="#fff">0.80</text><rect x="425.89" y="112.75" width="3.7" height="0.85" fill="#fff"/>
<text transform="translate(460.81,116.17) scale(0.96,1)" font-size="9.8" fill="#262626">0.02</text><rect x="456.68" y="112.75" width="3.7" height="0.85" fill="#262626"/>
<text transform="translate(492.50,116.17) scale(0.96,1)" font-size="9.8" fill="#262626">0. 9</text><path transform="translate(500.35,116.17) scale(9.408,9.800)" d="M0.215,0L0.305,0L0.305,-0.698L0.235,-0.698L0.075,-0.575L0.075,-0.49L0.215,-0.605Z" fill="#262626"/><rect x="488.37" y="112.75" width="3.7" height="0.85" fill="#262626"/>
<text transform="translate(524.59,116.17) scale(0.96,1)" font-size="9.8" fill="#262626">0.02</text>
<text transform="translate(556.18,116.17) scale(0.96,1)" font-size="9.8" fill="#fff">0.74</text><rect x="552.05" y="112.75" width="3.7" height="0.85" fill="#fff"/>
<text transform="translate(588.67,116.17) scale(0.96,1)" font-size="9.8" fill="#fff">0.74</text><rect x="584.54" y="112.75" width="3.7" height="0.85" fill="#fff"/>
<text transform="translate(620.16,116.17) scale(0.96,1)" font-size="9.8" fill="#fff">0.83</text><rect x="616.03" y="112.75" width="3.7" height="0.85" fill="#fff"/>
<text transform="translate(652.15,116.17) scale(0.96,1)" font-size="9.8" fill="#fff">0.8 </text><path transform="translate(665.23,116.17) scale(9.408,9.800)" d="M0.215,0L0.305,0L0.305,-0.698L0.235,-0.698L0.075,-0.575L0.075,-0.49L0.215,-0.605Z" fill="#fff"/><rect x="648.02" y="112.75" width="3.7" height="0.85" fill="#fff"/>
<text transform="translate(112.93,140.72) scale(0.96,1)" font-size="9.8" fill="#fff">0.58</text><rect x="108.80" y="137.30" width="3.7" height="0.85" fill="#fff"/>
<text transform="translate(145.12,140.72) scale(0.96,1)" font-size="9.8" fill="#262626">0.06</text><rect x="140.99" y="137.30" width="3.7" height="0.85" fill="#262626"/>
<text transform="translate(176.81,140.72) scale(0.96,1)" font-size="9.8" fill="#fff">0.67</text><rect x="172.68" y="137.30" width="3.7" height="0.85" fill="#fff"/>
<text transform="translate(207.00,140.72) scale(0.96,1)" font-size="9.8" fill="#fff">0.72</text><rect x="202.86" y="137.30" width="3.7" height="0.85" fill="#fff"/>
<text transform="translate(238.69,140.72) scale(0.96,1)" font-size="9.8" fill="#fff">0.79</text><rect x="234.55" y="137.30" width="3.7" height="0.85" fill="#fff"/>
<text transform="translate(269.98,140.72) scale(0.96,1)" font-size="9.8" fill="#262626">0.0 </text><path transform="translate(283.05,140.72) scale(9.408,9.800)" d="M0.215,0L0.305,0L0.305,-0.698L0.235,-0.698L0.075,-0.575L0.075,-0.49L0.215,-0.605Z" fill="#262626"/><rect x="265.84" y="137.30" width="3.7" height="0.85" fill="#262626"/>
<text transform="translate(300.77,140.72) scale(0.96,1)" font-size="9.8" fill="#262626">0.02</text><rect x="296.63" y="137.30" width="3.7" height="0.85" fill="#262626"/>
<text transform="translate(332.36,140.72) scale(0.96,1)" font-size="9.8" fill="#262626">0.02</text><rect x="328.22" y="137.30" width="3.7" height="0.85" fill="#262626"/>
<text transform="translate(365.64,140.72) scale(0.96,1)" font-size="9.8" fill="#fff">0.46</text><rect x="361.51" y="137.30" width="3.7" height="0.85" fill="#fff"/>
<text transform="translate(397.63,140.72) scale(0.96,1)" font-size="9.8" fill="#fff">0.67</text><rect x="393.50" y="137.30" width="3.7" height="0.85" fill="#fff"/>
<text transform="translate(430.02,140.72) scale(0.96,1)" font-size="9.8" fill="#fff">0.49</text><rect x="425.89" y="137.30" width="3.7" height="0.85" fill="#fff"/>
<text transform="translate(460.81,140.72) scale(0.96,1)" font-size="9.8" fill="#262626">0.04</text><rect x="456.68" y="137.30" width="3.7" height="0.85" fill="#262626"/>
<text transform="translate(492.50,140.72) scale(0.96,1)" font-size="9.8" fill="#262626">0.02</text><rect x="488.37" y="137.30" width="3.7" height="0.85" fill="#262626"/>
<text transform="translate(524.59,140.72) scale(0.96,1)" font-size="9.8" fill="#262626">0.02</text><rect x="520.46" y="137.30" width="3.7" height="0.85" fill="#262626"/>
<text transform="translate(556.18,140.72) scale(0.96,1)" font-size="9.8" fill="#262626">0.30</text><rect x="552.05" y="137.30" width="3.7" height="0.85" fill="#262626"/>
<text transform="translate(588.67,140.72) scale(0.96,1)" font-size="9.8" fill="#fff">0.69</text><rect x="584.54" y="137.30" width="3.7" height="0.85" fill="#fff"/>
<text transform="translate(620.16,140.72) scale(0.96,1)" font-size="9.8" fill="#fff">0.57</text><rect x="616.03" y="137.30" width="3.7" height="0.85" fill="#fff"/>
<text transform="translate(652.15,140.72) scale(0.96,1)" font-size="9.8" fill="#fff">0.74</text><rect x="648.02" y="137.30" width="3.7" height="0.85" fill="#fff"/>
<text transform="translate(112.93,162.07) scale(0.96,1)" font-size="9.8" fill="#fff">0.5 </text><path transform="translate(126.01,162.07) scale(9.408,9.800)" d="M0.215,0L0.305,0L0.305,-0.698L0.235,-0.698L0.075,-0.575L0.075,-0.49L0.215,-0.605Z" fill="#fff"/><rect x="108.80" y="158.65" width="3.7" height="0.85" fill="#fff"/>
<text transform="translate(145.12,162.07) scale(0.96,1)" font-size="9.8" fill="#262626">0.4 </text><path transform="translate(158.20,162.07) scale(9.408,9.800)" d="M0.215,0L0.305,0L0.305,-0.698L0.235,-0.698L0.075,-0.575L0.075,-0.49L0.215,-0.605Z" fill="#262626"/><rect x="140.99" y="158.65" width="3.7" height="0.85" fill="#262626"/>
<text transform="translate(176.81,162.07) scale(0.96,1)" font-size="9.8" fill="#fff">0.75</text><rect x="172.68" y="158.65" width="3.7" height="0.85" fill="#fff"/>
<text transform="translate(207.00,162.07) scale(0.96,1)" font-size="9.8" fill="#fff">0.86</text><rect x="202.86" y="158.65" width="3.7" height="0.85" fill="#fff"/>
<text transform="translate(238.69,162.07) scale(0.96,1)" font-size="9.8" fill="#fff">0.80</text><rect x="234.55" y="158.65" width="3.7" height="0.85" fill="#fff"/>
<text transform="translate(269.98,162.07) scale(0.96,1)" font-size="9.8" fill="#262626">0.02</text><rect x="265.84" y="158.65" width="3.7" height="0.85" fill="#262626"/>
<text transform="translate(300.77,162.07) scale(0.96,1)" font-size="9.8" fill="#262626">0.02</text><rect x="296.63" y="158.65" width="3.7" height="0.85" fill="#262626"/>
<text transform="translate(338.89,162.07) scale(0.96,1)" font-size="9.8" fill="#262626">0</text>
<text transform="translate(365.64,162.07) scale(0.96,1)" font-size="9.8" fill="#fff">0.52</text><rect x="361.51" y="158.65" width="3.7" height="0.85" fill="#fff"/>
<text transform="translate(397.63,162.07) scale(0.96,1)" font-size="9.8" fill="#fff">0.7 </text><path transform="translate(410.71,162.07) scale(9.408,9.800)" d="M0.215,0L0.305,0L0.305,-0.698L0.235,-0.698L0.075,-0.575L0.075,-0.49L0.215,-0.605Z" fill="#fff"/><rect x="393.50" y="158.65" width="3.7" height="0.85" fill="#fff"/>
<text transform="translate(430.02,162.07) scale(0.96,1)" font-size="9.8" fill="#fff">0.70</text><rect x="425.89" y="158.65" width="3.7" height="0.85" fill="#fff"/>
<text transform="translate(460.81,162.07) scale(0.96,1)" font-size="9.8" fill="#262626">0.06</text><rect x="456.68" y="158.65" width="3.7" height="0.85" fill="#262626"/>
<text transform="translate(492.50,162.07) scale(0.96,1)" font-size="9.8" fill="#262626">0. 4</text><path transform="translate(500.35,162.07) scale(9.408,9.800)" d="M0.215,0L0.305,0L0.305,-0.698L0.235,-0.698L0.075,-0.575L0.075,-0.49L0.215,-0.605Z" fill="#262626"/><rect x="488.37" y="158.65" width="3.7" height="0.85" fill="#262626"/>
<text transform="translate(524.59,162.07) scale(0.96,1)" font-size="9.8" fill="#262626">0.03</text><rect x="520.46" y="158.65" width="3.7" height="0.85" fill="#262626"/>
<text transform="translate(556.18,162.07) scale(0.96,1)" font-size="9.8" fill="#fff">0.73</text><rect x="552.05" y="158.65" width="3.7" height="0.85" fill="#fff"/>
<text transform="translate(588.67,162.07) scale(0.96,1)" font-size="9.8" fill="#fff">0.79</text><rect x="584.54" y="158.65" width="3.7" height="0.85" fill="#fff"/>
<text transform="translate(620.16,162.07) scale(0.96,1)" font-size="9.8" fill="#fff">0.70</text><rect x="616.03" y="158.65" width="3.7" height="0.85" fill="#fff"/>
<text transform="translate(652.15,162.07) scale(0.96,1)" font-size="9.8" fill="#fff">0.8 </text><path transform="translate(665.23,162.07) scale(9.408,9.800)" d="M0.215,0L0.305,0L0.305,-0.698L0.235,-0.698L0.075,-0.575L0.075,-0.49L0.215,-0.605Z" fill="#fff"/><rect x="648.02" y="158.65" width="3.7" height="0.85" fill="#fff"/>
<text transform="translate(112.93,181.32) scale(0.96,1)" font-size="9.8" fill="#fff">0.55</text><rect x="108.80" y="177.90" width="3.7" height="0.85" fill="#fff"/>
<text transform="translate(145.12,181.32) scale(0.96,1)" font-size="9.8" fill="#262626">0.08</text><rect x="140.99" y="177.90" width="3.7" height="0.85" fill="#262626"/>
<text transform="translate(176.81,181.32) scale(0.96,1)" font-size="9.8" fill="#fff">0.73</text><rect x="172.68" y="177.90" width="3.7" height="0.85" fill="#fff"/>
<text transform="translate(207.00,181.32) scale(0.96,1)" font-size="9.8" fill="#fff">0.73</text><rect x="202.86" y="177.90" width="3.7" height="0.85" fill="#fff"/>
<text transform="translate(238.69,181.32) scale(0.96,1)" font-size="9.8" fill="#fff">0.67</text><rect x="234.55" y="177.90" width="3.7" height="0.85" fill="#fff"/>
<text transform="translate(269.98,181.32) scale(0.96,1)" font-size="9.8" fill="#262626">0.02</text>
<text transform="translate(300.77,181.32) scale(0.96,1)" font-size="9.8" fill="#262626">0.02</text><rect x="296.63" y="177.90" width="3.7" height="0.85" fill="#262626"/>
<text transform="translate(332.36,181.32) scale(0.96,1)" font-size="9.8" fill="#262626">0.05</text><rect x="328.22" y="177.90" width="3.7" height="0.85" fill="#262626"/>
<text transform="translate(365.64,181.32) scale(0.96,1)" font-size="9.8" fill="#fff">0.58</text><rect x="361.51" y="177.90" width="3.7" height="0.85" fill="#fff"/>
<text transform="translate(397.63,181.32) scale(0.96,1)" font-size="9.8" fill="#fff">0.74</text><rect x="393.50" y="177.90" width="3.7" height="0.85" fill="#fff"/>
<text transform="translate(430.02,181.32) scale(0.96,1)" font-size="9.8" fill="#fff">0.54</text><rect x="425.89" y="177.90" width="3.7" height="0.85" fill="#fff"/>
<text transform="translate(460.81,181.32) scale(0.96,1)" font-size="9.8" fill="#262626">0.04</text><rect x="456.68" y="177.90" width="3.7" height="0.85" fill="#262626"/>
<text transform="translate(492.50,181.32) scale(0.96,1)" font-size="9.8" fill="#262626">0. 0</text><path transform="translate(500.35,181.32) scale(9.408,9.800)" d="M0.215,0L0.305,0L0.305,-0.698L0.235,-0.698L0.075,-0.575L0.075,-0.49L0.215,-0.605Z" fill="#262626"/><rect x="488.37" y="177.90" width="3.7" height="0.85" fill="#262626"/>
<text transform="translate(524.59,181.32) scale(0.96,1)" font-size="9.8" fill="#262626">0.06</text>
<text transform="translate(556.18,181.32) scale(0.96,1)" font-size="9.8" fill="#fff">0.53</text><rect x="552.05" y="177.90" width="3.7" height="0.85" fill="#fff"/>
<text transform="translate(588.67,181.32) scale(0.96,1)" font-size="9.8" fill="#fff">0.73</text><rect x="584.54" y="177.90" width="3.7" height="0.85" fill="#fff"/>
<text transform="translate(620.16,181.32) scale(0.96,1)" font-size="9.8" fill="#fff">0.63</text><rect x="616.03" y="177.90" width="3.7" height="0.85" fill="#fff"/>
<text transform="translate(652.15,181.32) scale(0.96,1)" font-size="9.8" fill="#fff">0.65</text><rect x="648.02" y="177.90" width="3.7" height="0.85" fill="#fff"/>
<text transform="translate(112.93,204.57) scale(0.96,1)" font-size="9.8" fill="#262626">0. 3</text><path transform="translate(120.77,204.57) scale(9.408,9.800)" d="M0.215,0L0.305,0L0.305,-0.698L0.235,-0.698L0.075,-0.575L0.075,-0.49L0.215,-0.605Z" fill="#262626"/>
<text transform="translate(145.12,204.57) scale(0.96,1)" font-size="9.8" fill="#fff">0.66</text>
<text transform="translate(176.81,204.57) scale(0.96,1)" font-size="9.8" fill="#fff">0.62</text>
<text transform="translate(207.00,204.57) scale(0.96,1)" font-size="9.8" fill="#fff">0.74</text>
<text transform="translate(238.69,204.57) scale(0.96,1)" font-size="9.8" fill="#fff">0.70</text>
<text transform="translate(276.52,204.57) scale(0.96,1)" font-size="9.8" fill="#262626">0</text>
<text transform="translate(307.30,204.57) scale(0.96,1)" font-size="9.8" fill="#262626">0</text>
<text transform="translate(332.36,204.57) scale(0.96,1)" font-size="9.8" fill="#262626">0.05</text>
<text transform="translate(365.64,204.57) scale(0.96,1)" font-size="9.8" fill="#fff">0.5 </text><path transform="translate(378.72,204.57) scale(9.408,9.800)" d="M0.215,0L0.305,0L0.305,-0.698L0.235,-0.698L0.075,-0.575L0.075,-0.49L0.215,-0.605Z" fill="#fff"/>
<text transform="translate(397.63,204.57) scale(0.96,1)" font-size="9.8" fill="#262626">0.26</text>
<text transform="translate(430.02,204.57) scale(0.96,1)" font-size="9.8" fill="#262626">0.39</text>
<text transform="translate(460.81,204.57) scale(0.96,1)" font-size="9.8" fill="#262626">0.06</text>
<text transform="translate(492.50,204.57) scale(0.96,1)" font-size="9.8" fill="#262626">0.25</text>
<text transform="translate(524.59,204.57) scale(0.96,1)" font-size="9.8" fill="#262626">0.04</text>
<text transform="translate(556.18,204.57) scale(0.96,1)" font-size="9.8" fill="#fff">0.48</text>
<text transform="translate(588.67,204.57) scale(0.96,1)" font-size="9.8" fill="#fff">0.52</text>
<text transform="translate(620.16,204.57) scale(0.96,1)" font-size="9.8" fill="#fff">0.5 </text><path transform="translate(633.24,204.57) scale(9.408,9.800)" d="M0.215,0L0.305,0L0.305,-0.698L0.235,-0.698L0.075,-0.575L0.075,-0.49L0.215,-0.605Z" fill="#fff"/>
<text transform="translate(652.15,204.57) scale(0.96,1)" font-size="9.8" fill="#fff">0.47</text>
<text transform="translate(112.93,225.02) scale(0.96,1)" font-size="9.8" fill="#262626">0.09</text>
<text transform="translate(145.12,225.02) scale(0.96,1)" font-size="9.8" fill="#fff">0.53</text>
<text transform="translate(176.81,225.02) scale(0.96,1)" font-size="9.8" fill="#fff">0.72</text>
<text transform="translate(207.00,225.02) scale(0.96,1)" font-size="9.8" fill="#fff">0.73</text>
<text transform="translate(238.69,225.02) scale(0.96,1)" font-size="9.8" fill="#fff">0.64</text>
<text transform="translate(269.98,225.02) scale(0.96,1)" font-size="9.8" fill="#262626">0.03</text><rect x="265.84" y="221.60" width="3.7" height="0.85" fill="#262626"/>
<text transform="translate(307.30,225.02) scale(0.96,1)" font-size="9.8" fill="#262626">0</text>
<text transform="translate(332.36,225.02) scale(0.96,1)" font-size="9.8" fill="#262626">0.02</text><rect x="328.22" y="221.60" width="3.7" height="0.85" fill="#262626"/>
<text transform="translate(365.64,225.02) scale(0.96,1)" font-size="9.8" fill="#262626">0.08</text>
<text transform="translate(397.63,225.02) scale(0.96,1)" font-size="9.8" fill="#262626">0. 5</text><path transform="translate(405.48,225.02) scale(9.408,9.800)" d="M0.215,0L0.305,0L0.305,-0.698L0.235,-0.698L0.075,-0.575L0.075,-0.49L0.215,-0.605Z" fill="#262626"/>
<text transform="translate(430.02,225.02) scale(0.96,1)" font-size="9.8" fill="#fff">0.47</text>
<text transform="translate(460.81,225.02) scale(0.96,1)" font-size="9.8" fill="#262626">0.03</text>
<text transform="translate(492.50,225.02) scale(0.96,1)" font-size="9.8" fill="#262626">0.29</text>
<text transform="translate(524.59,225.02) scale(0.96,1)" font-size="9.8" fill="#262626">0.03</text>
<text transform="translate(556.18,225.02) scale(0.96,1)" font-size="9.8" fill="#fff">0.55</text>
<text transform="translate(588.67,225.02) scale(0.96,1)" font-size="9.8" fill="#fff">0.6 </text><path transform="translate(601.75,225.02) scale(9.408,9.800)" d="M0.215,0L0.305,0L0.305,-0.698L0.235,-0.698L0.075,-0.575L0.075,-0.49L0.215,-0.605Z" fill="#fff"/>
<text transform="translate(620.16,225.02) scale(0.96,1)" font-size="9.8" fill="#fff">0.62</text>
<text transform="translate(652.15,225.02) scale(0.96,1)" font-size="9.8" fill="#fff">0.66</text>
<text transform="translate(112.93,246.77) scale(0.96,1)" font-size="9.8" fill="#262626">0.06</text>
<text transform="translate(145.12,246.77) scale(0.96,1)" font-size="9.8" fill="#fff">0.49</text>
<text transform="translate(176.81,246.77) scale(0.96,1)" font-size="9.8" fill="#fff">0.57</text>
<text transform="translate(207.00,246.77) scale(0.96,1)" font-size="9.8" fill="#fff">0.59</text>
<text transform="translate(238.69,246.77) scale(0.96,1)" font-size="9.8" fill="#fff">0.49</text>
<text transform="translate(269.98,246.77) scale(0.96,1)" font-size="9.8" fill="#262626">0.0 </text><path transform="translate(283.05,246.77) scale(9.408,9.800)" d="M0.215,0L0.305,0L0.305,-0.698L0.235,-0.698L0.075,-0.575L0.075,-0.49L0.215,-0.605Z" fill="#262626"/>
<text transform="translate(300.77,246.77) scale(0.96,1)" font-size="9.8" fill="#262626">0.06</text>
<text transform="translate(332.36,246.77) scale(0.96,1)" font-size="9.8" fill="#262626">0.03</text><rect x="328.22" y="243.35" width="3.7" height="0.85" fill="#262626"/>
<text transform="translate(365.64,246.77) scale(0.96,1)" font-size="9.8" fill="#262626">0.30</text>
<text transform="translate(397.63,246.77) scale(0.96,1)" font-size="9.8" fill="#262626">0.4 </text><path transform="translate(410.71,246.77) scale(9.408,9.800)" d="M0.215,0L0.305,0L0.305,-0.698L0.235,-0.698L0.075,-0.575L0.075,-0.49L0.215,-0.605Z" fill="#262626"/>
<text transform="translate(430.02,246.77) scale(0.96,1)" font-size="9.8" fill="#fff">0.49</text>
<text transform="translate(460.81,246.77) scale(0.96,1)" font-size="9.8" fill="#262626">0.07</text><rect x="456.68" y="243.35" width="3.7" height="0.85" fill="#262626"/>
<text transform="translate(492.50,246.77) scale(0.96,1)" font-size="9.8" fill="#262626">0.22</text>
<text transform="translate(524.59,246.77) scale(0.96,1)" font-size="9.8" fill="#262626">0.04</text>
<text transform="translate(556.18,246.77) scale(0.96,1)" font-size="9.8" fill="#fff">0.59</text>
<text transform="translate(588.67,246.77) scale(0.96,1)" font-size="9.8" fill="#fff">0.48</text>
<text transform="translate(620.16,246.77) scale(0.96,1)" font-size="9.8" fill="#fff">0.63</text>
<text transform="translate(652.15,246.77) scale(0.96,1)" font-size="9.8" fill="#fff">0.58</text>
<text transform="translate(78.64,268.22) scale(0.96,1)" font-size="9.8" fill="#262626">0.29</text><rect x="74.51" y="264.80" width="3.7" height="0.85" fill="#262626"/>
<text transform="translate(112.93,268.22) scale(0.96,1)" font-size="9.8" fill="#262626">0. 4</text><path transform="translate(120.77,268.22) scale(9.408,9.800)" d="M0.215,0L0.305,0L0.305,-0.698L0.235,-0.698L0.075,-0.575L0.075,-0.49L0.215,-0.605Z" fill="#262626"/>
<text transform="translate(145.12,268.22) scale(0.96,1)" font-size="9.8" fill="#fff">0.45</text><rect x="140.99" y="264.80" width="3.7" height="0.85" fill="#fff"/>
<text transform="translate(176.81,268.22) scale(0.96,1)" font-size="9.8" fill="#fff">0.60</text><rect x="172.68" y="264.80" width="3.7" height="0.85" fill="#fff"/>
<text transform="translate(207.00,268.22) scale(0.96,1)" font-size="9.8" fill="#fff">0.78</text><rect x="202.86" y="264.80" width="3.7" height="0.85" fill="#fff"/>
<text transform="translate(238.69,268.22) scale(0.96,1)" font-size="9.8" fill="#fff">0.72</text><rect x="234.55" y="264.80" width="3.7" height="0.85" fill="#fff"/>
<text transform="translate(269.98,268.22) scale(0.96,1)" font-size="9.8" fill="#262626">0.04</text>
<text transform="translate(300.77,268.22) scale(0.96,1)" font-size="9.8" fill="#262626">0.0 </text><path transform="translate(313.84,268.22) scale(9.408,9.800)" d="M0.215,0L0.305,0L0.305,-0.698L0.235,-0.698L0.075,-0.575L0.075,-0.49L0.215,-0.605Z" fill="#262626"/><rect x="296.63" y="264.80" width="3.7" height="0.85" fill="#262626"/>
<text transform="translate(332.36,268.22) scale(0.96,1)" font-size="9.8" fill="#262626">0.0 </text><path transform="translate(345.43,268.22) scale(9.408,9.800)" d="M0.215,0L0.305,0L0.305,-0.698L0.235,-0.698L0.075,-0.575L0.075,-0.49L0.215,-0.605Z" fill="#262626"/><rect x="328.22" y="264.80" width="3.7" height="0.85" fill="#262626"/>
<text transform="translate(365.64,268.22) scale(0.96,1)" font-size="9.8" fill="#262626">0.23</text><rect x="361.51" y="264.80" width="3.7" height="0.85" fill="#262626"/>
<text transform="translate(397.63,268.22) scale(0.96,1)" font-size="9.8" fill="#262626">0.40</text><rect x="393.50" y="264.80" width="3.7" height="0.85" fill="#262626"/>
<text transform="translate(430.02,268.22) scale(0.96,1)" font-size="9.8" fill="#fff">0.66</text><rect x="425.89" y="264.80" width="3.7" height="0.85" fill="#fff"/>
<text transform="translate(460.81,268.22) scale(0.96,1)" font-size="9.8" fill="#262626">0.0 </text><path transform="translate(473.89,268.22) scale(9.408,9.800)" d="M0.215,0L0.305,0L0.305,-0.698L0.235,-0.698L0.075,-0.575L0.075,-0.49L0.215,-0.605Z" fill="#262626"/><rect x="456.68" y="264.80" width="3.7" height="0.85" fill="#262626"/>
<text transform="translate(492.50,268.22) scale(0.96,1)" font-size="9.8" fill="#262626">0.32</text><rect x="488.37" y="264.80" width="3.7" height="0.85" fill="#262626"/>
<text transform="translate(524.59,268.22) scale(0.96,1)" font-size="9.8" fill="#262626">0.07</text><rect x="520.46" y="264.80" width="3.7" height="0.85" fill="#262626"/>
<text transform="translate(556.18,268.22) scale(0.96,1)" font-size="9.8" fill="#fff">0.68</text><rect x="552.05" y="264.80" width="3.7" height="0.85" fill="#fff"/>
<text transform="translate(588.67,268.22) scale(0.96,1)" font-size="9.8" fill="#fff">0.60</text><rect x="584.54" y="264.80" width="3.7" height="0.85" fill="#fff"/>
<text transform="translate(620.16,268.22) scale(0.96,1)" font-size="9.8" fill="#fff">0.55</text><rect x="616.03" y="264.80" width="3.7" height="0.85" fill="#fff"/>
<text transform="translate(652.15,268.22) scale(0.96,1)" font-size="9.8" fill="#fff">0.74</text><rect x="648.02" y="264.80" width="3.7" height="0.85" fill="#fff"/>
<text transform="translate(78.64,290.38) scale(0.96,1)" font-size="9.8" fill="#fff">0.58</text>
<text transform="translate(112.93,290.38) scale(0.96,1)" font-size="9.8" fill="#262626">0. 3</text><path transform="translate(120.77,290.38) scale(9.408,9.800)" d="M0.215,0L0.305,0L0.305,-0.698L0.235,-0.698L0.075,-0.575L0.075,-0.49L0.215,-0.605Z" fill="#262626"/>
<text transform="translate(145.12,290.38) scale(0.96,1)" font-size="9.8" fill="#fff">0.56</text>
<text transform="translate(176.81,290.38) scale(0.96,1)" font-size="9.8" fill="#fff">0.73</text>
<text transform="translate(207.00,290.38) scale(0.96,1)" font-size="9.8" fill="#fff">0.9 </text><path transform="translate(220.08,290.38) scale(9.408,9.800)" d="M0.215,0L0.305,0L0.305,-0.698L0.235,-0.698L0.075,-0.575L0.075,-0.49L0.215,-0.605Z" fill="#fff"/>
<text transform="translate(238.69,290.38) scale(0.96,1)" font-size="9.8" fill="#fff">0.79</text>
<text transform="translate(269.98,290.38) scale(0.96,1)" font-size="9.8" fill="#262626">0.05</text>
<text transform="translate(300.77,290.38) scale(0.96,1)" font-size="9.8" fill="#262626">0.02</text>
<text transform="translate(332.36,290.38) scale(0.96,1)" font-size="9.8" fill="#262626">0.0 </text><path transform="translate(345.43,290.38) scale(9.408,9.800)" d="M0.215,0L0.305,0L0.305,-0.698L0.235,-0.698L0.075,-0.575L0.075,-0.49L0.215,-0.605Z" fill="#262626"/><rect x="328.22" y="286.95" width="3.7" height="0.85" fill="#262626"/>
<text transform="translate(365.64,290.38) scale(0.96,1)" font-size="9.8" fill="#262626">0.23</text>
<text transform="translate(397.63,290.38) scale(0.96,1)" font-size="9.8" fill="#fff">0.73</text>
<text transform="translate(430.02,290.38) scale(0.96,1)" font-size="9.8" fill="#fff">0.80</text>
<text transform="translate(460.81,290.38) scale(0.96,1)" font-size="9.8" fill="#262626">0.0 </text><path transform="translate(473.89,290.38) scale(9.408,9.800)" d="M0.215,0L0.305,0L0.305,-0.698L0.235,-0.698L0.075,-0.575L0.075,-0.49L0.215,-0.605Z" fill="#262626"/><rect x="456.68" y="286.95" width="3.7" height="0.85" fill="#262626"/>
<text transform="translate(492.50,290.38) scale(0.96,1)" font-size="9.8" fill="#262626">0.24</text>
<text transform="translate(524.59,290.38) scale(0.96,1)" font-size="9.8" fill="#262626">0.03</text>
<text transform="translate(556.18,290.38) scale(0.96,1)" font-size="9.8" fill="#fff">0.76</text>
<text transform="translate(588.67,290.38) scale(0.96,1)" font-size="9.8" fill="#fff">0.49</text>
<text transform="translate(620.16,290.38) scale(0.96,1)" font-size="9.8" fill="#262626">0.39</text>
<text transform="translate(652.15,290.38) scale(0.96,1)" font-size="9.8" fill="#fff">0.85</text>
<text transform="translate(112.93,311.93) scale(0.96,1)" font-size="9.8" fill="#262626">0. 8</text><path transform="translate(120.77,311.93) scale(9.408,9.800)" d="M0.215,0L0.305,0L0.305,-0.698L0.235,-0.698L0.075,-0.575L0.075,-0.49L0.215,-0.605Z" fill="#262626"/><rect x="108.80" y="308.50" width="3.7" height="0.85" fill="#262626"/>
<text transform="translate(145.12,311.93) scale(0.96,1)" font-size="9.8" fill="#262626">0.09</text>
<text transform="translate(176.81,311.93) scale(0.96,1)" font-size="9.8" fill="#fff">0.59</text>
<text transform="translate(207.00,311.93) scale(0.96,1)" font-size="9.8" fill="#fff">0.74</text>
<text transform="translate(238.69,311.93) scale(0.96,1)" font-size="9.8" fill="#fff">0.65</text>
<text transform="translate(269.98,311.93) scale(0.96,1)" font-size="9.8" fill="#262626">0.03</text>
<text transform="translate(300.77,311.93) scale(0.96,1)" font-size="9.8" fill="#262626">0.0 </text><path transform="translate(313.84,311.93) scale(9.408,9.800)" d="M0.215,0L0.305,0L0.305,-0.698L0.235,-0.698L0.075,-0.575L0.075,-0.49L0.215,-0.605Z" fill="#262626"/>
<text transform="translate(332.36,311.93) scale(0.96,1)" font-size="9.8" fill="#262626">0.02</text><rect x="328.22" y="308.50" width="3.7" height="0.85" fill="#262626"/>
<text transform="translate(365.64,311.93) scale(0.96,1)" font-size="9.8" fill="#262626">0.40</text>
<text transform="translate(397.63,311.93) scale(0.96,1)" font-size="9.8" fill="#fff">0.75</text>
<text transform="translate(430.02,311.93) scale(0.96,1)" font-size="9.8" fill="#fff">0.69</text>
<text transform="translate(460.81,311.93) scale(0.96,1)" font-size="9.8" fill="#262626">0.07</text>
<text transform="translate(492.50,311.93) scale(0.96,1)" font-size="9.8" fill="#262626">0.27</text>
<text transform="translate(524.59,311.93) scale(0.96,1)" font-size="9.8" fill="#262626">0.03</text>
<text transform="translate(556.18,311.93) scale(0.96,1)" font-size="9.8" fill="#262626">0.38</text>
<text transform="translate(588.67,311.93) scale(0.96,1)" font-size="9.8" fill="#fff">0.65</text>
<text transform="translate(620.16,311.93) scale(0.96,1)" font-size="9.8" fill="#fff">0.57</text>
<text transform="translate(652.15,311.93) scale(0.96,1)" font-size="9.8" fill="#fff">0.64</text>
<text transform="translate(112.93,333.47) scale(0.96,1)" font-size="9.8" fill="#262626">0. 3</text><path transform="translate(120.77,333.47) scale(9.408,9.800)" d="M0.215,0L0.305,0L0.305,-0.698L0.235,-0.698L0.075,-0.575L0.075,-0.49L0.215,-0.605Z" fill="#262626"/><rect x="108.80" y="330.05" width="3.7" height="0.85" fill="#262626"/>
<text transform="translate(145.12,333.47) scale(0.96,1)" font-size="9.8" fill="#262626">0.29</text>
<text transform="translate(176.81,333.47) scale(0.96,1)" font-size="9.8" fill="#fff">0.72</text>
<text transform="translate(207.00,333.47) scale(0.96,1)" font-size="9.8" fill="#fff">0.84</text>
<text transform="translate(238.69,333.47) scale(0.96,1)" font-size="9.8" fill="#fff">0.75</text>
<text transform="translate(269.98,333.47) scale(0.96,1)" font-size="9.8" fill="#262626">0.0 </text><path transform="translate(283.05,333.47) scale(9.408,9.800)" d="M0.215,0L0.305,0L0.305,-0.698L0.235,-0.698L0.075,-0.575L0.075,-0.49L0.215,-0.605Z" fill="#262626"/>
<text transform="translate(300.77,333.47) scale(0.96,1)" font-size="9.8" fill="#262626">0.03</text>
<text transform="translate(332.36,333.47) scale(0.96,1)" font-size="9.8" fill="#262626">0.0 </text><path transform="translate(345.43,333.47) scale(9.408,9.800)" d="M0.215,0L0.305,0L0.305,-0.698L0.235,-0.698L0.075,-0.575L0.075,-0.49L0.215,-0.605Z" fill="#262626"/>
<text transform="translate(365.64,333.47) scale(0.96,1)" font-size="9.8" fill="#262626">0.2 </text><path transform="translate(378.72,333.47) scale(9.408,9.800)" d="M0.215,0L0.305,0L0.305,-0.698L0.235,-0.698L0.075,-0.575L0.075,-0.49L0.215,-0.605Z" fill="#262626"/><rect x="361.51" y="330.05" width="3.7" height="0.85" fill="#262626"/>
<text transform="translate(397.63,333.47) scale(0.96,1)" font-size="9.8" fill="#fff">0.75</text>
<text transform="translate(430.02,333.47) scale(0.96,1)" font-size="9.8" fill="#fff">0.77</text>
<text transform="translate(460.81,333.47) scale(0.96,1)" font-size="9.8" fill="#262626">0. 0</text><path transform="translate(468.66,333.47) scale(9.408,9.800)" d="M0.215,0L0.305,0L0.305,-0.698L0.235,-0.698L0.075,-0.575L0.075,-0.49L0.215,-0.605Z" fill="#262626"/>
<text transform="translate(492.50,333.47) scale(0.96,1)" font-size="9.8" fill="#262626">0.32</text>
<text transform="translate(524.59,333.47) scale(0.96,1)" font-size="9.8" fill="#262626">0.07</text>
<text transform="translate(556.18,333.47) scale(0.96,1)" font-size="9.8" fill="#fff">0.59</text>
<text transform="translate(588.67,333.47) scale(0.96,1)" font-size="9.8" fill="#fff">0.74</text>
<text transform="translate(620.16,333.47) scale(0.96,1)" font-size="9.8" fill="#fff">0.67</text>
<text transform="translate(652.15,333.47) scale(0.96,1)" font-size="9.8" fill="#fff">0.79</text>
<line x1="68.0" y1="69.58" x2="73.0" y2="69.58" stroke="#8a8a8a" stroke-width="0.75"/>
<text transform="translate(55.50,72.38) scale(0.8730,1)" text-anchor="end" font-size="8.0" fill="#222">EXT<tspan font-size="10.5">-</tspan>PA</text>
<path d="M60.60,71.88V66.58M58.70,68.98L60.60,66.58L62.50,68.98" fill="none" stroke="#222" stroke-width="0.8"/>
<line x1="68.0" y1="91.33" x2="73.0" y2="91.33" stroke="#8a8a8a" stroke-width="0.75"/>
<text transform="translate(55.50,94.12) scale(0.9073,1)" text-anchor="end" font-size="8.0" fill="#222">EXT<tspan font-size="10.5">-</tspan>NA</text>
<path d="M60.60,88.22V93.83M58.70,91.42L60.60,93.83L62.50,91.42" fill="none" stroke="#222" stroke-width="0.8"/>
<line x1="68.0" y1="113.08" x2="73.0" y2="113.08" stroke="#8a8a8a" stroke-width="0.75"/>
<text transform="translate(55.50,115.88) scale(0.8575,1)" text-anchor="end" font-size="8.0" fill="#222">AGR<tspan font-size="10.5">-</tspan>PHYS</text>
<path d="M60.60,109.97V115.58M58.70,113.17L60.60,115.58L62.50,113.17" fill="none" stroke="#222" stroke-width="0.8"/>
<line x1="68.0" y1="134.82" x2="73.0" y2="134.82" stroke="#8a8a8a" stroke-width="0.75"/>
<text transform="translate(55.50,137.62) scale(0.8564,1)" text-anchor="end" font-size="8.0" fill="#222">AGR<tspan font-size="10.5">-</tspan>VRBL</text>
<path d="M60.60,131.72V137.32M58.70,134.92L60.60,137.32L62.50,134.92" fill="none" stroke="#222" stroke-width="0.8"/>
<line x1="68.0" y1="156.57" x2="73.0" y2="156.57" stroke="#8a8a8a" stroke-width="0.75"/>
<text transform="translate(55.50,159.38) scale(0.8748,1)" text-anchor="end" font-size="8.0" fill="#222">AGR<tspan font-size="10.5">-</tspan>ANGR</text>
<path d="M60.60,153.47V159.07M58.70,156.67L60.60,159.07L62.50,156.67" fill="none" stroke="#222" stroke-width="0.8"/>
<line x1="68.0" y1="178.32" x2="73.0" y2="178.32" stroke="#8a8a8a" stroke-width="0.75"/>
<text transform="translate(55.50,181.12) scale(0.8807,1)" text-anchor="end" font-size="8.0" fill="#222">AGR<tspan font-size="10.5">-</tspan>HSTL</text>
<path d="M60.60,175.22V180.82M58.70,178.42L60.60,180.82L62.50,178.42" fill="none" stroke="#222" stroke-width="0.8"/>
<line x1="68.0" y1="200.07" x2="73.0" y2="200.07" stroke="#8a8a8a" stroke-width="0.75"/>
<text transform="translate(55.50,202.88) scale(0.9326,1)" text-anchor="end" font-size="8.0" fill="#222">CON<tspan font-size="10.5">-</tspan>ACHV</text>
<path d="M60.60,202.38V197.07M58.70,199.47L60.60,197.07L62.50,199.47" fill="none" stroke="#222" stroke-width="0.8"/>
<line x1="68.0" y1="221.82" x2="73.0" y2="221.82" stroke="#8a8a8a" stroke-width="0.75"/>
<text transform="translate(55.50,224.62) scale(0.9210,1)" text-anchor="end" font-size="8.0" fill="#222">CON<tspan font-size="10.5">-</tspan>CONF</text>
<path d="M60.60,224.12V218.82M58.70,221.22L60.60,218.82L62.50,221.22" fill="none" stroke="#222" stroke-width="0.8"/>
<line x1="68.0" y1="243.57" x2="73.0" y2="243.57" stroke="#8a8a8a" stroke-width="0.75"/>
<text transform="translate(55.50,246.38) scale(0.8979,1)" text-anchor="end" font-size="8.0" fill="#222">CON<tspan font-size="10.5">-</tspan>SCRT</text>
<path d="M60.60,245.88V240.57M58.70,242.97L60.60,240.57L62.50,242.97" fill="none" stroke="#222" stroke-width="0.8"/>
<line x1="68.0" y1="265.32" x2="73.0" y2="265.32" stroke="#8a8a8a" stroke-width="0.75"/>
<text transform="translate(55.50,268.12) scale(0.8937,1)" text-anchor="end" font-size="8.0" fill="#222">NEU<tspan font-size="10.5">-</tspan>PA</text>
<path d="M60.60,262.23V267.82M58.70,265.43L60.60,267.82L62.50,265.43" fill="none" stroke="#222" stroke-width="0.8"/>
<line x1="68.0" y1="287.07" x2="73.0" y2="287.07" stroke="#8a8a8a" stroke-width="0.75"/>
<text transform="translate(55.50,289.88) scale(0.8904,1)" text-anchor="end" font-size="8.0" fill="#222">NEU<tspan font-size="10.5">-</tspan>NA</text>
<path d="M60.60,289.38V284.07M58.70,286.47L60.60,284.07L62.50,286.47" fill="none" stroke="#222" stroke-width="0.8"/>
<line x1="68.0" y1="308.82" x2="73.0" y2="308.82" stroke="#8a8a8a" stroke-width="0.75"/>
<text transform="translate(55.50,311.62) scale(0.8675,1)" text-anchor="end" font-size="8.0" fill="#222">OPE<tspan font-size="10.5">-</tspan>CSE</text>
<path d="M60.60,311.12V305.82M58.70,308.22L60.60,305.82L62.50,308.22" fill="none" stroke="#222" stroke-width="0.8"/>
<line x1="68.0" y1="330.57" x2="73.0" y2="330.57" stroke="#8a8a8a" stroke-width="0.75"/>
<text transform="translate(55.50,333.38) scale(0.8790,1)" text-anchor="end" font-size="8.0" fill="#222">OPE<tspan font-size="10.5">-</tspan>CPI</text>
<path d="M60.60,332.88V327.57M58.70,329.97L60.60,327.57L62.50,329.97" fill="none" stroke="#222" stroke-width="0.8"/>
<line x1="88.89" y1="341.75" x2="88.89" y2="346.35" stroke="#8a8a8a" stroke-width="0.75"/>
<text transform="translate(92.19,351.90) rotate(-90) scale(0.9129,1)" text-anchor="end" font-size="8.1" fill="#222">Watson &amp; Clark, 1992</text>
<line x1="120.68" y1="341.75" x2="120.68" y2="346.35" stroke="#8a8a8a" stroke-width="0.75"/>
<text transform="translate(123.98,351.90) rotate(-90) scale(0.8727,1)" text-anchor="end" font-size="8.1" fill="#222">PaLM 62B</text>
<line x1="152.47" y1="341.75" x2="152.47" y2="346.35" stroke="#8a8a8a" stroke-width="0.75"/>
<text transform="translate(155.77,351.90) rotate(-90) scale(0.8746,1)" text-anchor="end" font-size="8.1" fill="#222">Flan-PaLM 8B</text>
<line x1="184.26" y1="341.75" x2="184.26" y2="346.35" stroke="#8a8a8a" stroke-width="0.75"/>
<text transform="translate(187.56,351.90) rotate(-90) scale(0.8820,1)" text-anchor="end" font-size="8.1" fill="#222">Flan-PaLM 62B</text>
<line x1="216.05" y1="341.75" x2="216.05" y2="346.35" stroke="#8a8a8a" stroke-width="0.75"/>
<text transform="translate(219.35,351.90) rotate(-90) scale(0.9084,1)" text-anchor="end" font-size="8.1" fill="#222">Flan-PaLM 540B</text>
<line x1="247.84" y1="341.75" x2="247.84" y2="346.35" stroke="#8a8a8a" stroke-width="0.75"/>
<text transform="translate(251.14,351.90) rotate(-90) scale(0.9304,1)" text-anchor="end" font-size="8.1" fill="#222">Flan-PaLMChilla 62B</text>
<line x1="279.63" y1="341.75" x2="279.63" y2="346.35" stroke="#8a8a8a" stroke-width="0.75"/>
<text transform="translate(282.93,351.90) rotate(-90) scale(0.9028,1)" text-anchor="end" font-size="8.1" fill="#222">Llama 2 7B</text>
<line x1="311.42" y1="341.75" x2="311.42" y2="346.35" stroke="#8a8a8a" stroke-width="0.75"/>
<text transform="translate(314.72,351.90) rotate(-90) scale(0.8641,1)" text-anchor="end" font-size="8.1" fill="#222">Llama 2 13B</text>
<line x1="343.21" y1="341.75" x2="343.21" y2="346.35" stroke="#8a8a8a" stroke-width="0.75"/>
<text transform="translate(346.51,351.90) rotate(-90) scale(0.9091,1)" text-anchor="end" font-size="8.1" fill="#222">Llama 2 70B</text>
<line x1="375.00" y1="341.75" x2="375.00" y2="346.35" stroke="#8a8a8a" stroke-width="0.75"/>
<text transform="translate(378.30,351.90) rotate(-90) scale(0.9217,1)" text-anchor="end" font-size="8.1" fill="#222">Llama 2-Chat 7B</text>
<line x1="406.79" y1="341.75" x2="406.79" y2="346.35" stroke="#8a8a8a" stroke-width="0.75"/>
<text transform="translate(410.09,351.90) rotate(-90) scale(0.9125,1)" text-anchor="end" font-size="8.1" fill="#222">Llama 2-Chat 13B</text>
<line x1="438.58" y1="341.75" x2="438.58" y2="346.35" stroke="#8a8a8a" stroke-width="0.75"/>
<text transform="translate(441.88,351.90) rotate(-90) scale(0.9404,1)" text-anchor="end" font-size="8.1" fill="#222">Llama 2-Chat 70B</text>
<line x1="470.37" y1="341.75" x2="470.37" y2="346.35" stroke="#8a8a8a" stroke-width="0.75"/>
<text transform="translate(473.67,351.90) rotate(-90) scale(0.8946,1)" text-anchor="end" font-size="8.1" fill="#222">Mistral 7B</text>
<line x1="502.16" y1="341.75" x2="502.16" y2="346.35" stroke="#8a8a8a" stroke-width="0.75"/>
<text transform="translate(505.46,351.90) rotate(-90) scale(0.9731,1)" text-anchor="end" font-size="8.1" fill="#222">Mistral 7B Instruct</text>
<line x1="533.95" y1="341.75" x2="533.95" y2="346.35" stroke="#8a8a8a" stroke-width="0.75"/>
<text transform="translate(537.25,351.90) rotate(-90) scale(0.9255,1)" text-anchor="end" font-size="8.1" fill="#222">Mixtral 8x7B</text>
<line x1="565.74" y1="341.75" x2="565.74" y2="346.35" stroke="#8a8a8a" stroke-width="0.75"/>
<text transform="translate(569.04,351.90) rotate(-90) scale(0.9712,1)" text-anchor="end" font-size="8.1" fill="#222">Mixtral 8x7B Instruct</text>
<line x1="597.53" y1="341.75" x2="597.53" y2="346.35" stroke="#8a8a8a" stroke-width="0.75"/>
<text transform="translate(600.83,351.90) rotate(-90) scale(0.9020,1)" text-anchor="end" font-size="8.1" fill="#222">GPT-3.5 Turbo</text>
<line x1="629.32" y1="341.75" x2="629.32" y2="346.35" stroke="#8a8a8a" stroke-width="0.75"/>
<text transform="translate(632.62,351.90) rotate(-90) scale(0.9250,1)" text-anchor="end" font-size="8.1" fill="#222">GPT-4o mini</text>
<line x1="661.11" y1="341.75" x2="661.11" y2="346.35" stroke="#8a8a8a" stroke-width="0.75"/>
<text transform="translate(664.41,351.90) rotate(-90) scale(0.8322,1)" text-anchor="end" font-size="8.1" fill="#222">GPT-4o</text>
<text transform="translate(6.3,200.1) rotate(-90) scale(0.92,1)" text-anchor="middle" font-size="9.3" fill="#222">Scale</text>
<text transform="translate(374.8,437.8) scale(1.0,1)" text-anchor="middle" font-size="9.1" fill="#222">Model</text>
</svg>
</body></html>
